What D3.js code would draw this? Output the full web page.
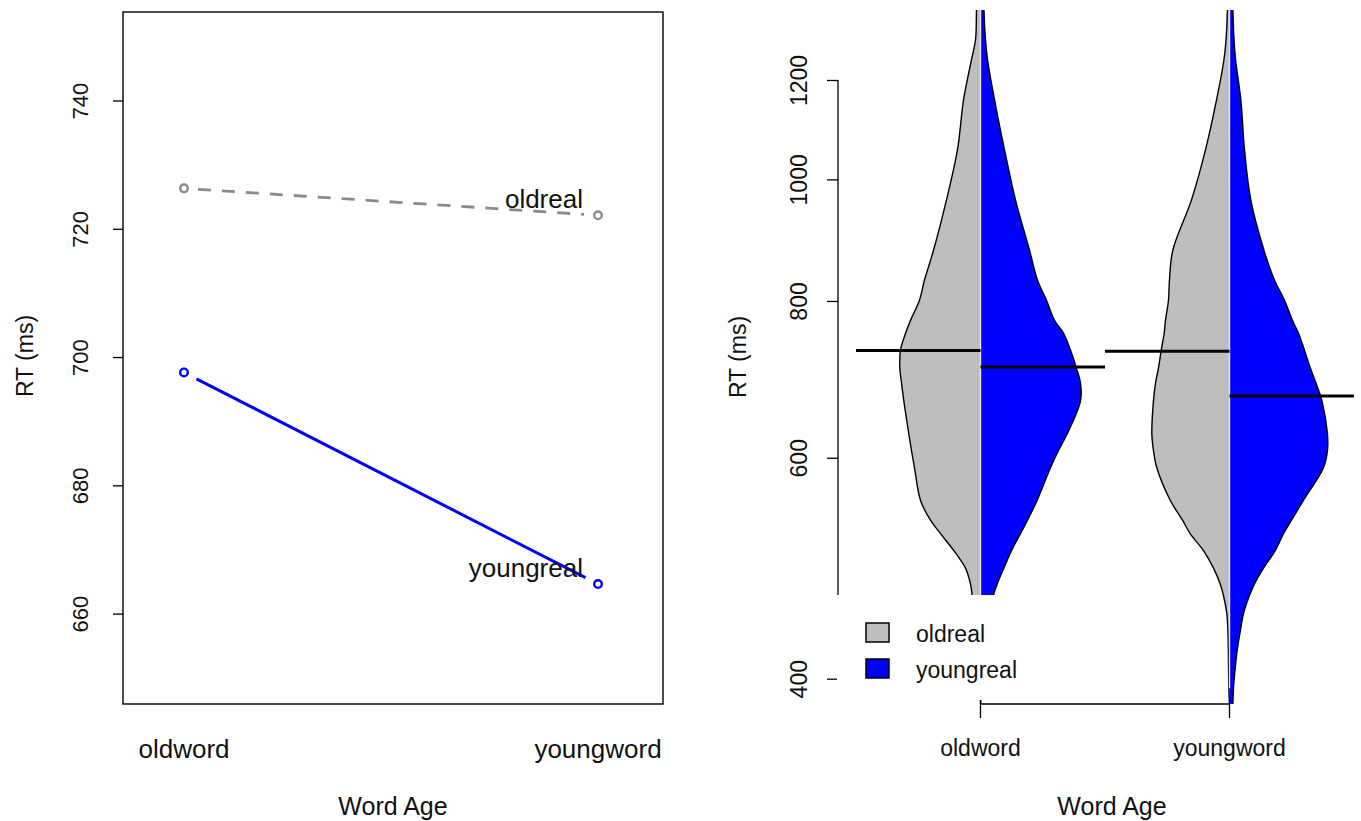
<!DOCTYPE html>
<html>
<head>
<meta charset="utf-8">
<script src="https://cdn.jsdelivr.net/npm/d3@7"></script>
<style>
  body { margin: 0; background: #fff; }
  svg { display: block; font-family: "Liberation Sans", Arial, sans-serif; }
</style>
</head>
<body>
<svg id="chart" width="1361" height="821"></svg>
<script>
const wordAges = ['oldword', 'youngword'];
const realTypes = ['oldreal', 'youngreal'];

// left panel: mean RT per cell
const meanOldreal = [726.3, 722.1];
const meanYoungreal = [697.6, 664.6];
const leftTicks = [660, 680, 700, 720, 740];

// right panel: RT grid and relative density (0-100) for each half violin
const rtGrid = [1500, 1366, 1292, 1246, 1157, 1056, 963, 878, 831, 801, 772, 754, 731, 708, 688, 666,
  627, 608, 589, 555, 535, 522, 506, 490, 476, 466, 451, 439, 423, 408, 393, 381];
const densOldwordOldreal = [2.3, 3.7, 4.6, 8.3, 15.7, 21.3, 31.5, 43.5, 51.9, 56.5, 64.8, 69.4, 74.1, 74.7, 73.1, 71.0,
  66.4, 63.9, 61.1, 55.6, 46.3, 37.0, 24.7, 13.9, 9.3, 7.7, 5.6, 3.7, 1.9, 0.9, 0.5, 0];
const densOldwordYoungreal = [2.3, 3.2, 4.6, 6.5, 13.0, 22.2, 32.4, 45.4, 52.8, 61.1, 68.5, 76.9, 83.3, 88.6, 92.6, 92.6,
  80.3, 72.2, 64.8, 52.5, 43.5, 37.0, 28.7, 21.6, 15.5, 11.8, 8.3, 6.5, 3.7, 1.9, 0.9, 0];
const densYoungwordOldreal = [1.4, 1.9, 3.2, 5.1, 12.0, 22.2, 35.2, 52.5, 55.6, 56.5, 59.3, 60.5, 63.2, 65.7, 68.5, 70.4,
  71.9, 70.4, 67.3, 54.9, 43.5, 36.4, 24.1, 14.8, 8.6, 5.6, 2.5, 1.6, 1.1, 0.9, 0.6, 0];
const densYoungwordYoungreal = [2.3, 3.1, 4.2, 5.6, 10.5, 13.9, 19.7, 31.9, 41.7, 50.9, 58.3, 63.9, 69.4, 74.7, 80.1, 85.6,
  90.7, 90.7, 87.0, 68.5, 57.4, 50.0, 42.3, 31.5, 23.1, 18.5, 13.0, 10.5, 7.4, 5.3, 3.7, 3.1];
const medOldreal = [730.5, 729.4];
const medYoungreal = [708.7, 672.0];
const rightTicks = [400, 600, 800, 1000, 1200];

const svg = d3.select('#chart');
const FONT = '"Liberation Sans", Arial, sans-serif';

// ---------- left: interaction plot ----------
const xL = d3.scaleLinear().domain([0.8527, 2.157]).range([123, 663]);
const yL = d3.scaleLinear().domain([645.9, 753.8]).range([704, 12]);

svg.append('rect')
  .attr('x', 123).attr('y', 12).attr('width', 540).attr('height', 692)
  .attr('fill', 'none').attr('stroke', '#000').attr('stroke-width', 1.4);

const gL = svg.append('g')
  .attr('transform', 'translate(123,0)')
  .call(d3.axisLeft(yL).tickValues(leftTicks).tickSize(10).tickSizeOuter(0));
gL.attr('font-family', FONT).attr('font-size', null);
gL.select('.domain').remove();
gL.selectAll('.tick line').attr('stroke', '#000').attr('stroke-width', 1.3);
gL.selectAll('.tick text')
  .attr('transform', 'rotate(-90)')
  .attr('x', 0).attr('y', -43).attr('dy', '0.35em')
  .attr('text-anchor', 'middle')
  .attr('fill', '#111')
  .style('font-size', '22px');

// type "b" style segments: line leaves a gap round each point
function gapSegment(x1, y1, x2, y2, gap) {
  const dx = x2 - x1, dy = y2 - y1, len = Math.hypot(dx, dy);
  const ux = dx / len, uy = dy / len;
  return [x1 + ux * gap, y1 + uy * gap, x2 - ux * gap, y2 - uy * gap];
}

const series = [
  { name: realTypes[0], values: meanOldreal, color: '#8a8a8a', dash: '13,11', width: 2.8 },
  { name: realTypes[1], values: meanYoungreal, color: '#0000ff', dash: null, width: 3 }
];

series.forEach(s => {
  const s0 = gapSegment(xL(1), yL(s.values[0]), xL(2), yL(s.values[1]), 14);
  svg.append('line')
    .attr('x1', s0[0]).attr('y1', s0[1]).attr('x2', s0[2]).attr('y2', s0[3])
    .attr('stroke', s.color).attr('stroke-width', s.width)
    .attr('stroke-dasharray', s.dash);
  svg.selectAll(null).data(s.values).enter().append('circle')
    .attr('cx', (d, i) => xL(i + 1)).attr('cy', d => yL(d))
    .attr('r', 3.8)
    .attr('fill', 'none').attr('stroke', s.color).attr('stroke-width', 2.4);
  svg.append('text')
    .attr('x', xL(2) - 15).attr('y', yL(s.values[1]) - 7)
    .attr('text-anchor', 'end')
    .style('font-size', '26px').attr('fill', '#111')
    .text(s.name);
});

wordAges.forEach((w, i) => {
  svg.append('text')
    .attr('x', xL(i + 1)).attr('y', 758)
    .attr('text-anchor', 'middle')
    .style('font-size', '26px').attr('fill', '#111')
    .text(w);
});

svg.append('text')
  .attr('x', 393).attr('y', 815).attr('text-anchor', 'middle')
  .style('font-size', '25px').attr('fill', '#111').text('Word Age');
svg.append('text')
  .attr('transform', 'translate(25,356) rotate(-90)')
  .attr('dy', '0.35em').attr('text-anchor', 'middle')
  .style('font-size', '23px').attr('fill', '#111').text('RT (ms)');

// ---------- right: split violins ----------
const xR = d3.scaleLinear().domain([1, 2]).range([980.5, 1229.5]);
const yR = d3.scaleLog().domain([400, 1200]).range([678.7, 80]);
const wR = d3.scaleLinear().domain([0, 100]).range([0, 108]);
const halfLen = 124.5;

svg.append('clipPath').attr('id', 'clipR')
  .append('rect').attr('x', 838).attr('y', 10).attr('width', 523).attr('height', 694);

const gV = svg.append('g').attr('clip-path', 'url(#clipR)');

const violins = [
  { left: densOldwordOldreal, right: densOldwordYoungreal },
  { left: densYoungwordOldreal, right: densYoungwordYoungreal }
];

violins.forEach((v, i) => {
  const cx = xR(i + 1);
  const leftData = rtGrid.map((rt, k) => ({ rt, w: v.left[k] }));
  const rightData = rtGrid.map((rt, k) => ({ rt, w: v.right[k] }));
  const curve = d3.curveCatmullRom;

  const areaL = d3.area().curve(curve).y(d => yR(d.rt)).x0(cx).x1(d => cx - wR(d.w));
  const areaR = d3.area().curve(curve).y(d => yR(d.rt)).x0(cx).x1(d => cx + wR(d.w));
  const edgeL = d3.line().curve(curve).x(d => cx - wR(d.w)).y(d => yR(d.rt));
  const edgeR = d3.line().curve(curve).x(d => cx + wR(d.w)).y(d => yR(d.rt));

  gV.append('path').datum(leftData).attr('d', areaL).attr('fill', '#bebebe');
  gV.append('path').datum(rightData).attr('d', areaR).attr('fill', '#0000ff');
  gV.append('path').datum(leftData).attr('d', edgeL)
    .attr('fill', 'none').attr('stroke', '#000').attr('stroke-width', 1.4);
  gV.append('path').datum(rightData).attr('d', edgeR)
    .attr('fill', 'none').attr('stroke', '#000').attr('stroke-width', 1.4);

  const lastGray = leftData.filter(d => d.w > 0.5).pop();
  gV.append('line')
    .attr('x1', cx).attr('x2', cx).attr('y1', 0).attr('y2', yR(lastGray.rt))
    .attr('stroke', '#e8e6d6').attr('stroke-width', 1.4);

  gV.append('line')
    .attr('x1', cx - halfLen).attr('x2', cx)
    .attr('y1', yR(medOldreal[i])).attr('y2', yR(medOldreal[i]))
    .attr('stroke', '#000').attr('stroke-width', 3);
  gV.append('line')
    .attr('x1', cx).attr('x2', cx + halfLen)
    .attr('y1', yR(medYoungreal[i])).attr('y2', yR(medYoungreal[i]))
    .attr('stroke', '#000').attr('stroke-width', 3);
});

const gR = svg.append('g')
  .attr('transform', 'translate(838,0)')
  .call(d3.axisLeft(yR).tickValues(rightTicks).tickFormat(d3.format('d')).tickSize(11).tickSizeOuter(0));
gR.attr('font-family', FONT).attr('font-size', null);
gR.select('.domain').remove();
gR.append('line')
  .attr('x1', 0).attr('x2', 0).attr('y1', yR(1200)).attr('y2', yR(400))
  .attr('stroke', '#000').attr('stroke-width', 1.3);
gR.selectAll('.tick line').attr('stroke', '#000').attr('stroke-width', 1.3);
gR.selectAll('.tick text')
  .attr('transform', 'rotate(-90)')
  .attr('x', 0).attr('y', -39).attr('dy', '0.35em')
  .attr('text-anchor', 'middle')
  .attr('fill', '#111')
  .style('font-size', '23px');

// legend (white box hides what lies under it)
const lg = svg.append('g');
lg.append('rect').attr('x', 837).attr('y', 595).attr('width', 212).attr('height', 105).attr('fill', '#fff');
[['#bebebe', 623], ['#0000ff', 659]].forEach((c, i) => {
  lg.append('rect').attr('x', 866).attr('y', c[1]).attr('width', 23).attr('height', 19)
    .attr('fill', c[0]).attr('stroke', '#000').attr('stroke-width', 1.5);
  lg.append('text').attr('x', 916).attr('y', c[1] + 19)
    .style('font-size', '23px').attr('fill', '#111').text(realTypes[i]);
});

// x axis of right panel
svg.append('line')
  .attr('x1', xR(1)).attr('x2', xR(2)).attr('y1', 704).attr('y2', 704)
  .attr('stroke', '#000').attr('stroke-width', 1.3);
wordAges.forEach((w, i) => {
  svg.append('line')
    .attr('x1', xR(i + 1)).attr('x2', xR(i + 1)).attr('y1', 704).attr('y2', 718)
    .attr('stroke', '#000').attr('stroke-width', 1.3);
  svg.append('text')
    .attr('x', xR(i + 1)).attr('y', 756).attr('text-anchor', 'middle')
    .style('font-size', '23px').attr('fill', '#111').text(w);
});

svg.append('text')
  .attr('x', 1112).attr('y', 815).attr('text-anchor', 'middle')
  .style('font-size', '25px').attr('fill', '#111').text('Word Age');
svg.append('text')
  .attr('transform', 'translate(738,357) rotate(-90)')
  .attr('dy', '0.35em').attr('text-anchor', 'middle')
  .style('font-size', '23px').attr('fill', '#111').text('RT (ms)');
</script>
</body>
</html>
